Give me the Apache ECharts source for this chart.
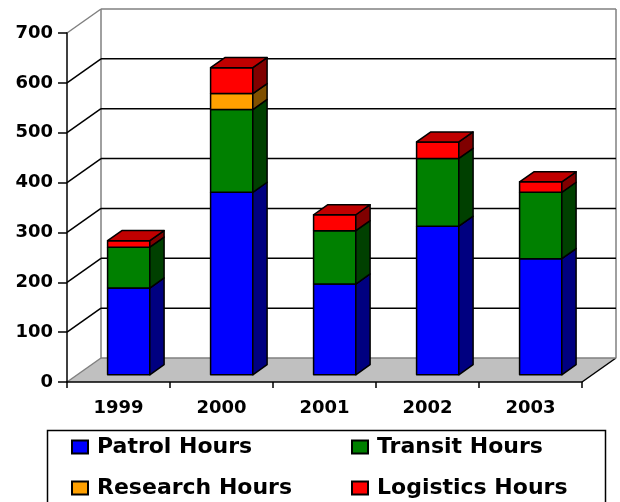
<!DOCTYPE html>
<html>
<head>
<meta charset="utf-8">
<script src="https://cdn.jsdelivr.net/npm/echarts@6/dist/echarts.min.js"></script>
<style>html,body{margin:0;padding:0;background:#fff;}#c{width:620px;height:502px;}</style>
</head>
<body>
<div id="c"></div>
<script>
const categories = ['1999', '2000', '2001', '2002', '2003'];
const seriesNames = ['Patrol Hours', 'Transit Hours', 'Research Hours', 'Logistics Hours'];
const patrol = [174, 366, 182, 298, 233];
const transit = [82, 166, 107, 136, 133];
const research = [0, 32, 0, 0, 0];
const logistics = [13, 52, 32, 33, 21];
const yTicks = [0, 100, 200, 300, 400, 500, 600, 700];

const values = [patrol, transit, research, logistics];
const faceColors = [
  ['#0000FF', '#000080', '#0000C0'],
  ['#008000', '#004000', '#006000'],
  ['#FFA000', '#805000', '#C07800'],
  ['#FF0000', '#800000', '#C00000']
];
const DX = 34, DY = -24;      // depth projection of the whole floor
const F1 = 0.30, F2 = 0.72;   // bar front / back depth fractions
const BARW = 0.41;
const FONT = 'DejaVu Sans';

function buildData(si) {
  return categories.map((c, ci) => {
    let base = 0;
    for (let k = 0; k < si; k++) base += values[k][ci];
    let top = -1;
    for (let k = 0; k < values.length; k++) if (values[k][ci] > 0) top = k;
    return [ci, base, values[si][ci], top === si ? 1 : 0];
  });
}

function barRender(si) {
  return function (params, api) {
    const ci = api.value(0), base = api.value(1), val = api.value(2), isTop = api.value(3);
    if (!(val > 0)) return;
    const p0 = api.coord([ci, base]);
    const p1 = api.coord([ci, base + val]);
    const bw = api.size([1, 0])[0];
    const w = bw * BARW;
    const x0 = p0[0] + DX * F1 - w / 2, x1 = x0 + w;
    const yb = p0[1] + DY * F1, yt = p1[1] + DY * F1;
    const ddx = DX * (F2 - F1), ddy = DY * (F2 - F1);
    const st = { stroke: '#000', lineWidth: 1.5, lineJoin: 'round' };
    const ch = [
      { type: 'polygon', shape: { points: [[x0, yb], [x1, yb], [x1, yt], [x0, yt]] }, style: Object.assign({ fill: faceColors[si][0] }, st) },
      { type: 'polygon', shape: { points: [[x1, yb], [x1 + ddx, yb + ddy], [x1 + ddx, yt + ddy], [x1, yt]] }, style: Object.assign({ fill: faceColors[si][1] }, st) }
    ];
    if (isTop) {
      ch.push({ type: 'polygon', shape: { points: [[x0, yt], [x1, yt], [x1 + ddx, yt + ddy], [x0 + ddx, yt + ddy]] }, style: Object.assign({ fill: faceColors[si][2] }, st) });
    }
    return { type: 'group', children: ch };
  };
}

function frameRender(params, api) {
  const cs = params.coordSys;
  const xl = cs.x, xr = cs.x + cs.width;
  const ch = [];
  const y0 = api.coord([0, 0])[1];
  const gray = '#808080';
  ch.push({ type: 'polygon', shape: { points: [[xl, y0], [xr, y0], [xr + DX, y0 + DY], [xl + DX, y0 + DY]] }, style: { fill: '#C0C0C0', stroke: null } });
  ch.push({ type: 'line', shape: { x1: xl, y1: y0, x2: xl + DX, y2: y0 + DY }, style: { stroke: gray, lineWidth: 1.5 } });
  ch.push({ type: 'line', shape: { x1: xr, y1: y0, x2: xr + DX, y2: y0 + DY }, style: { stroke: '#000', lineWidth: 1.5 } });
  ch.push({ type: 'line', shape: { x1: xl + DX, y1: y0 + DY, x2: xr + DX, y2: y0 + DY }, style: { stroke: gray, lineWidth: 1.5 } });
  const yTop = api.coord([0, yTicks[yTicks.length - 1]])[1];
  ch.push({ type: 'line', shape: { x1: xl + DX, y1: y0 + DY, x2: xl + DX, y2: yTop + DY }, style: { stroke: gray, lineWidth: 1.5 } });
  ch.push({ type: 'line', shape: { x1: xr + DX, y1: y0 + DY, x2: xr + DX, y2: yTop + DY }, style: { stroke: gray, lineWidth: 1.5 } });
  yTicks.forEach((v, i) => {
    if (v === 0) return;
    const y = api.coord([0, v])[1];
    const last = i === yTicks.length - 1;
    const col = last ? gray : '#000';
    ch.push({ type: 'line', shape: { x1: xl, y1: y, x2: xl + DX, y2: y + DY }, style: { stroke: col, lineWidth: 1.5 } });
    ch.push({ type: 'line', shape: { x1: xl + DX, y1: y + DY, x2: xr + DX, y2: y + DY }, style: { stroke: col, lineWidth: 1.5 } });
  });
  return { type: 'group', children: ch };
}

const chart = echarts.init(document.getElementById('c'), null, { renderer: 'canvas' });

const series = [{
  type: 'custom', name: '_frame', z: 1, silent: true,
  renderItem: frameRender, data: [[0]], clip: false
}];
seriesNames.forEach((n, si) => {
  series.push({
    type: 'custom', name: n, z: 3, clip: false,
    itemStyle: { color: faceColors[si][0], borderColor: '#000', borderWidth: 1.5 },
    renderItem: barRender(si),
    encode: { x: 0, y: 2 },
    data: buildData(si)
  });
});

const legendText = { fontFamily: FONT, fontWeight: 'bold', fontSize: 22, color: '#000', padding: [0, 0, 0, 4] };
const legendPos = [[71, 436], [351, 436], [71, 477], [351, 477]];
const legends = seriesNames.map((n, i) => ({
  data: [n], orient: 'horizontal', left: legendPos[i][0], top: legendPos[i][1], padding: 0,
  itemWidth: 16, itemHeight: 13, icon: 'rect', textStyle: legendText, selectedMode: false
}));

chart.setOption({
  animation: false,
  backgroundColor: '#fff',
  grid: { left: 67, top: 33, width: 515, height: 349, containLabel: false },
  xAxis: {
    type: 'category', data: categories, boundaryGap: true, z: 5,
    axisLine: { lineStyle: { color: '#000', width: 1.5 } },
    axisTick: { show: true, length: 6, lineStyle: { color: '#000', width: 1.5 }, alignWithLabel: false },
    axisLabel: { fontFamily: FONT, fontWeight: 'bold', fontSize: 18, color: '#000', margin: 17 },
    splitLine: { show: false }
  },
  yAxis: {
    type: 'value', min: 0, max: 700, interval: 100, z: 5,
    axisLine: { show: true, lineStyle: { color: '#000', width: 1.5 } },
    axisTick: { show: true, length: 9, lineStyle: { color: '#000', width: 1.5 } },
    axisLabel: { fontFamily: FONT, fontWeight: 'bold', fontSize: 18, color: '#000', margin: 14 },
    splitLine: { show: false }
  },
  legend: legends,
  graphic: [{
    type: 'rect', left: 45, top: 428, silent: true,
    shape: { x: 0, y: 0, width: 558, height: 100 },
    style: { fill: 'none', stroke: '#000', lineWidth: 1.5 }
  }],
  series: series
});
</script>
</body>
</html>
